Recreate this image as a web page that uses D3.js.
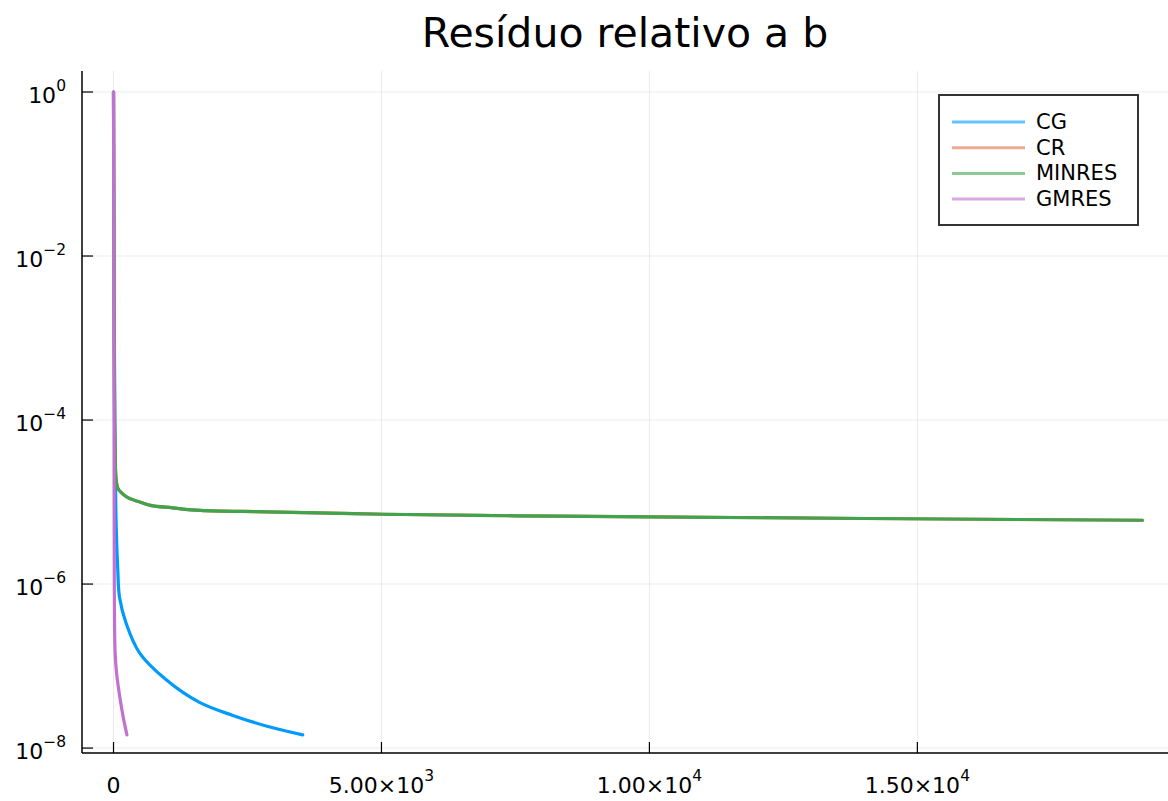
<!DOCTYPE html>
<html>
<head>
<meta charset="utf-8">
<script src="https://cdn.jsdelivr.net/npm/d3@7"></script>
<style>
  body { margin: 0; background: #fff; }
  text { font-family: "DejaVu Sans", sans-serif; fill: #000; }
</style>
</head>
<body>
<div id="chart"></div>
<script>
// series: iteration number and relative residual
var seriesNames = ["CG", "CR", "MINRES", "GMRES"];
var seriesColors = ["#009AFA", "#E36F47", "#3EA44E", "#C271D2"];

var cgIter = [0, 10, 25, 50, 80, 112, 237, 485, 983, 1605, 2226, 2848, 3531];
var cgRes = [1, 1e-2, 1e-4, 5.0e-6, 1.48e-6, 6.9e-7, 3.3e-7, 1.45e-7, 6.8e-8, 3.6e-8, 2.5e-8, 1.86e-8, 1.45e-8];

// CR sits right under MINRES, hidden
var crIter = [0, 8, 20, 40, 55, 80, 150, 250, 450, 690, 1100, 1620, 2860, 5040, 7500, 10000, 14000, 19200];
var crRes = [1, 1e-2, 1e-4, 2.24e-5, 1.74e-5, 1.48e-5, 1.29e-5, 1.15e-5, 1.02e-5, 9.1e-6, 8.5e-6, 7.9e-6, 7.6e-6, 7.1e-6, 6.8e-6, 6.6e-6, 6.3e-6, 6.0e-6];

var minresIter = [0, 8, 20, 40, 55, 80, 150, 250, 450, 690, 1100, 1620, 2860, 5040, 7500, 10000, 14000, 19200];
var minresRes = [1, 1e-2, 1e-4, 2.24e-5, 1.74e-5, 1.48e-5, 1.29e-5, 1.15e-5, 1.02e-5, 9.1e-6, 8.5e-6, 7.9e-6, 7.6e-6, 7.1e-6, 6.8e-6, 6.6e-6, 6.3e-6, 6.0e-6];

var gmresIter = [0, 5, 10, 15, 30, 60, 125, 180, 250];
var gmresRes = [1, 1e-2, 1e-4, 1e-6, 1.45e-7, 7.9e-8, 3.9e-8, 2.4e-8, 1.45e-8];

var xTicks = [0, 5000, 10000, 15000];
var xTickLabels = [["0", ""], ["5.00×10", "3"], ["1.00×10", "4"], ["1.50×10", "4"]];
var yTicks = [1, 1e-2, 1e-4, 1e-6, 1e-8];
var yTickLabels = ["0", "−2", "−4", "−6", "−8"];

var W = 1168, H = 801;
var margin = { top: 71, right: 0, bottom: 48, left: 82 };
var plotLeft = margin.left,
    plotRight = W - margin.right,
    plotTop = margin.top,
    plotBottom = H - margin.bottom;

var svg = d3.select("#chart")
    .append("svg")
    .attr("width", W)
    .attr("height", H);

var x = d3.scaleLinear()
    .domain([-588, 19677])
    .range([plotLeft, plotRight]);

var y = d3.scaleLog()
    .domain([Math.pow(10, -8.06), Math.pow(10, 0.256)])
    .range([plotBottom, plotTop]);

// grid
svg.append("g").selectAll("line")
    .data(xTicks).enter().append("line")
    .attr("x1", d => x(d)).attr("x2", d => x(d))
    .attr("y1", plotTop).attr("y2", plotBottom)
    .attr("stroke", "#000").attr("stroke-opacity", 0.08).attr("stroke-width", 1);
svg.append("g").selectAll("line")
    .data(yTicks).enter().append("line")
    .attr("x1", plotLeft).attr("x2", plotRight)
    .attr("y1", d => y(d)).attr("y2", d => y(d))
    .attr("stroke", "#000").attr("stroke-opacity", 0.08).attr("stroke-width", 1);

// lines
var allIter = [cgIter, crIter, minresIter, gmresIter];
var allRes = [cgRes, crRes, minresRes, gmresRes];

var line = d3.line()
    .x(d => x(d[0]))
    .y(d => y(d[1]))
    .curve(d3.curveCatmullRom.alpha(0.5));

seriesNames.forEach(function(name, i){
    var pts = allIter[i].map(function(it, j){ return [it, allRes[i][j]]; });
    svg.append("path")
        .datum(pts)
        .attr("fill", "none")
        .attr("stroke", seriesColors[i])
        .attr("stroke-width", 3.2)
        .attr("stroke-linejoin", "round")
        .attr("stroke-linecap", "round")
        .attr("d", line);
});

// axes
svg.append("line")
    .attr("x1", plotLeft).attr("x2", plotLeft).attr("y1", plotTop).attr("y2", plotBottom)
    .attr("stroke", "#000").attr("stroke-width", 1.5);
svg.append("line")
    .attr("x1", plotLeft).attr("x2", plotRight).attr("y1", plotBottom).attr("y2", plotBottom)
    .attr("stroke", "#000").attr("stroke-width", 1.5);

// y ticks
yTicks.forEach(function(t, i){
    var yy = y(t);
    svg.append("line")
        .attr("x1", plotLeft).attr("x2", plotLeft + 11).attr("y1", yy).attr("y2", yy)
        .attr("stroke", "#000").attr("stroke-width", 1.2);
    var txt = svg.append("text")
        .attr("x", 66).attr("y", yy + 11)
        .attr("text-anchor", "end")
        .style("font-size", "22px");
    txt.append("tspan").text("10");
    txt.append("tspan").attr("dy", -12).style("font-size", "15.5px").text(yTickLabels[i]);
});

// x ticks
xTicks.forEach(function(t, i){
    var xx = x(t);
    svg.append("line")
        .attr("x1", xx).attr("x2", xx).attr("y1", plotBottom).attr("y2", plotBottom - 11)
        .attr("stroke", "#000").attr("stroke-width", 1.2);
    var txt = svg.append("text")
        .attr("x", xx).attr("y", 793)
        .attr("text-anchor", "middle")
        .style("font-size", "22px");
    txt.append("tspan").text(xTickLabels[i][0]);
    if (xTickLabels[i][1]) {
        txt.append("tspan").attr("dy", -12).style("font-size", "15.5px").text(xTickLabels[i][1]);
    }
});

// title
svg.append("text")
    .attr("x", (plotLeft + plotRight) / 2)
    .attr("y", 47)
    .attr("text-anchor", "middle")
    .style("font-size", "41px")
    .text("Resíduo relativo a b");

// legend
var lg = svg.append("g");
lg.append("rect")
    .attr("x", 939).attr("y", 95)
    .attr("width", 199).attr("height", 130)
    .attr("fill", "#fff")
    .attr("stroke", "#333").attr("stroke-width", 2);
seriesNames.forEach(function(name, i){
    var yy = 122 + i * 25.7;
    lg.append("line")
        .attr("x1", 952).attr("x2", 1025).attr("y1", yy).attr("y2", yy)
        .attr("stroke", seriesColors[i]).attr("stroke-width", 3)
        .attr("stroke-opacity", 0.6);
    lg.append("text")
        .attr("x", 1036).attr("y", yy + 7)
        .style("font-size", "21px")
        .text(name);
});
</script>
</body>
</html>
